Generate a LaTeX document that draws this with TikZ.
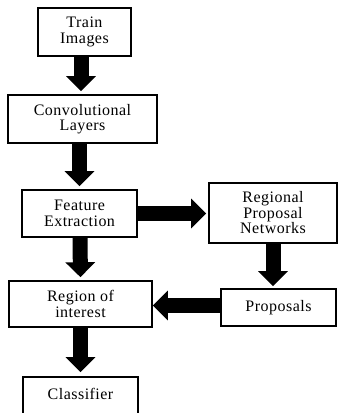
\documentclass[tikz,border=0pt]{standalone}
\usepackage{fontspec}
\setmainfont[LetterSpace=3]{Liberation Serif}
\usetikzlibrary{arrows.meta}

\tikzset{
  stage/.style={draw=black, line width=1.6pt, fill=white, align=center,
    inner sep=0pt, font=\fontsize{16}{15.5}\selectfont},
  blockarrow/.style={line width=15pt,
    -{Triangle[width=29pt,length=15pt]}},
}

\begin{document}
\begin{tikzpicture}[x=1pt,y=-1pt]
  \useasboundingbox (0,0) rectangle (339,413);

  % pipeline stages
  \node[stage, minimum width=93pt,  minimum height=48pt] (train)   at (84.5,32)   {Train\\Images};
  \node[stage, minimum width=149pt, minimum height=48pt] (conv)    at (82.5,119)  {Convolutional\\Layers};
  \node[stage, minimum width=115pt, minimum height=47pt] (feature) at (79.5,213.5){Feature\\Extraction};
  \node[stage, minimum width=128pt, minimum height=60pt] (rpn)     at (273,213)   {Regional\\Proposal\\Networks};
  \node[stage, minimum width=143pt, minimum height=46pt] (roi)     at (80.5,304)  {Region of\\interest};
  \node[stage, minimum width=115pt, minimum height=37pt] (prop)    at (278.5,307.5){Proposals};
  \node[stage, minimum width=115pt, minimum height=40pt] (cls)     at (80.5,397)  {\raisebox{6pt}{Classifier}};

  % flow arrows
  \draw[blockarrow, shorten >=3pt] ([xshift=-3.5pt]train.south) -- ([xshift=-1.5pt]conv.north);
  \draw[blockarrow, shorten >=3pt] ([xshift=-3pt]conv.south) -- (feature.north);
  \draw[blockarrow, shorten >=3pt] ([xshift=0.5pt]feature.south) -- (roi.north);
  \draw[blockarrow, shorten >=4pt] (roi.south) -- (cls.north);
  \draw[blockarrow, shorten >=2pt] (feature.east) -- (rpn.west |- feature.east);
  \draw[blockarrow, shorten >=2pt] (rpn.south) -- (prop.north -| rpn.south);
  \draw[blockarrow] ([yshift=2pt]prop.west) -- ([yshift=2pt]prop.west -| roi.east);
\end{tikzpicture}
\end{document}
